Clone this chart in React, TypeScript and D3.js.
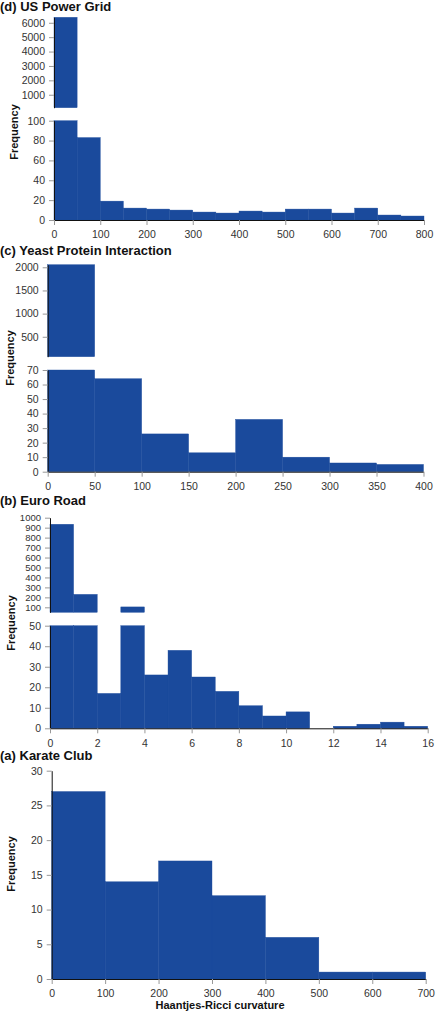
import React, { useEffect, useRef } from "react";
import * as d3 from "d3";

// (d) US Power Grid
const gridBinStarts = [0, 50, 100, 150, 200, 250, 300, 350, 400, 450, 500, 550, 600, 650, 700, 750];
const gridCounts = [6380, 83, 19, 12, 11, 10, 8, 7, 9, 8, 11, 11, 7, 12, 5, 4];
const gridTicksX = [0, 100, 200, 300, 400, 500, 600, 700, 800];
const gridTicksLow = [0, 20, 40, 60, 80, 100];
const gridTicksHigh = [1000, 2000, 3000, 4000, 5000, 6000];

// (c) Yeast Protein Interaction
const yeastBinStarts = [0, 50, 100, 150, 200, 250, 300, 350];
const yeastCounts = [2056, 64, 26, 13, 36, 10, 6, 5];
const yeastTicksX = [0, 50, 100, 150, 200, 250, 300, 350, 400];
const yeastTicksLow = [0, 10, 20, 30, 40, 50, 60, 70];
const yeastTicksHigh = [500, 1000, 1500, 2000];

// (b) Euro Road
const roadBinStarts = [0, 1, 2, 3, 4, 5, 6, 7, 8, 9, 10, 11, 12, 13, 14, 15];
const roadCounts = [934, 230, 17, 104, 26, 38, 25, 18, 11, 6, 8, 0, 1, 2, 3, 1];
const roadTicksX = [0, 2, 4, 6, 8, 10, 12, 14, 16];
const roadTicksLow = [0, 10, 20, 30, 40, 50];
const roadTicksHigh = [100, 200, 300, 400, 500, 600, 700, 800, 900, 1000];

// (a) Karate Club
const karateBinStarts = [0, 100, 200, 300, 400, 500, 600];
const karateCounts = [27, 14, 17, 12, 6, 1, 1];
const karateTicksX = [0, 100, 200, 300, 400, 500, 600, 700];
const karateTicksLow = [0, 5, 10, 15, 20, 25, 30];

const FONT = "'Liberation Sans', Arial, Helvetica, sans-serif";
const BAR = "#1a4a9c";

const panels = [
  {
    title: "(d) US Power Grid", titleY: 11, freqX: 18, freqY: 132,
    starts: gridBinStarts, counts: gridCounts, xMax: 800,
    xTicks: gridTicksX, lowTicks: gridTicksLow, highTicks: gridTicksHigh,
    x0: 54, x1: 424,
    lowMax: 100, lowRange: [220, 120.7],
    highMin: 100, highMax: 6380, highRange: [107.7, 17.3],
  },
  {
    title: "(c) Yeast Protein Interaction", titleY: 255, freqX: 14, freqY: 358,
    starts: yeastBinStarts, counts: yeastCounts, xMax: 400,
    xTicks: yeastTicksX, lowTicks: yeastTicksLow, highTicks: yeastTicksHigh,
    x0: 47.7, x1: 423.5,
    lowMax: 70, lowRange: [471.7, 370],
    highMin: 70, highMax: 2056, highRange: [356.7, 264.7],
  },
  {
    title: "(b) Euro Road", titleY: 505, freqX: 14.5, freqY: 623,
    starts: roadBinStarts, counts: roadCounts, xMax: 16,
    xTicks: roadTicksX, lowTicks: roadTicksLow, highTicks: roadTicksHigh,
    x0: 50, x1: 427.7,
    lowMax: 50, lowRange: [728.3, 625.7],
    highMin: 50, highMax: 1000, highRange: [612.3, 517.7],
  },
  {
    title: "(a) Karate Club", titleY: 760, freqX: 15, freqY: 864,
    starts: karateBinStarts, counts: karateCounts, xMax: 700,
    xTicks: karateTicksX, lowTicks: karateTicksLow, highTicks: null,
    x0: 51.7, x1: 425.7,
    lowMax: 30, lowRange: [979, 770.7],
    highMin: 0, highMax: 0, highRange: [0, 0],
  },
];

function styleAxis(sel: any, fontSize: number) {
  sel.select(".domain").attr("stroke", "#111").attr("stroke-width", 1);
  sel.selectAll(".tick line").attr("stroke", "#999");
  sel
    .selectAll(".tick text")
    .attr("fill", "#333")
    .attr("font-size", fontSize)
    .attr("font-family", FONT);
}

const App = () => {
  const ref = useRef<SVGSVGElement>(null);

  useEffect(() => {
    const svg = d3.select(ref.current);
    svg.selectAll("*").remove();
    const fmt = d3.format("d");

    panels.forEach((p) => {
      const g = svg.append("g");
      const x = d3.scaleLinear().domain([0, p.xMax]).range([p.x0, p.x1]);
      const yLow = d3.scaleLinear().domain([0, p.lowMax]).range(p.lowRange);

      const binEnd = (i: number) => (i + 1 < p.starts.length ? p.starts[i + 1] : p.xMax);

      // lower segment bars (clipped at the break)
      p.counts.forEach((c, i) => {
        if (c <= 0) return;
        const top = Math.min(c, p.lowMax);
        g.append("rect")
          .attr("x", x(p.starts[i]))
          .attr("width", x(binEnd(i)) - x(p.starts[i]))
          .attr("y", yLow(top))
          .attr("height", yLow(0) - yLow(top))
          .attr("fill", BAR)
          .attr("stroke", BAR)
          .attr("stroke-width", 0.4);
      });

      // upper segment bars
      if (p.highTicks) {
        const yHigh = d3.scaleLinear().domain([p.highMin, p.highMax]).range(p.highRange);
        p.counts.forEach((c, i) => {
          if (c <= p.highMin) return;
          g.append("rect")
            .attr("x", x(p.starts[i]))
            .attr("width", x(binEnd(i)) - x(p.starts[i]))
            .attr("y", yHigh(c))
            .attr("height", yHigh(p.highMin) - yHigh(c))
            .attr("fill", BAR)
            .attr("stroke", BAR)
            .attr("stroke-width", 0.4);
        });
        const ah = g
          .append("g")
          .attr("transform", `translate(${p.x0},0)`)
          .call(
            d3
              .axisLeft(yHigh)
              .tickValues(p.highTicks)
              .tickFormat(fmt)
              .tickSize(5)
              .tickSizeOuter(0)
              .tickPadding(4)
          );
        styleAxis(ah, p.highTicks.length > 6 ? 9.5 : 10.5);
      }

      const al = g
        .append("g")
        .attr("transform", `translate(${p.x0},0)`)
        .call(
          d3
            .axisLeft(yLow)
            .tickValues(p.lowTicks)
            .tickFormat(fmt)
            .tickSize(5)
            .tickSizeOuter(0)
            .tickPadding(4)
        );
      styleAxis(al, 10.5);

      const ax = g
        .append("g")
        .attr("transform", `translate(0,${p.lowRange[0]})`)
        .call(
          d3
            .axisBottom(x)
            .tickValues(p.xTicks)
            .tickFormat(fmt)
            .tickSize(5)
            .tickSizeOuter(0)
            .tickPadding(6)
        );
      styleAxis(ax, 10.5);

      g.append("text")
        .attr("x", 0)
        .attr("y", p.titleY)
        .attr("font-size", 13)
        .attr("font-weight", "bold")
        .attr("font-family", FONT)
        .attr("fill", "#111")
        .text(p.title);

      g.append("text")
        .attr("transform", `translate(${p.freqX},${p.freqY}) rotate(-90)`)
        .attr("text-anchor", "middle")
        .attr("font-size", 11)
        .attr("font-weight", "bold")
        .attr("font-family", FONT)
        .attr("fill", "#111")
        .text("Frequency");
    });

    svg
      .append("text")
      .attr("x", 220)
      .attr("y", 1009)
      .attr("text-anchor", "middle")
      .attr("font-size", 11)
      .attr("font-weight", "bold")
      .attr("font-family", FONT)
      .attr("fill", "#111")
      .text("Haantjes-Ricci curvature");
  }, []);

  return (
    <svg
      ref={ref}
      width={436}
      height={1013}
      style={{ position: "absolute", left: 0, top: 0, background: "#fff" }}
    />
  );
};

export default App;
